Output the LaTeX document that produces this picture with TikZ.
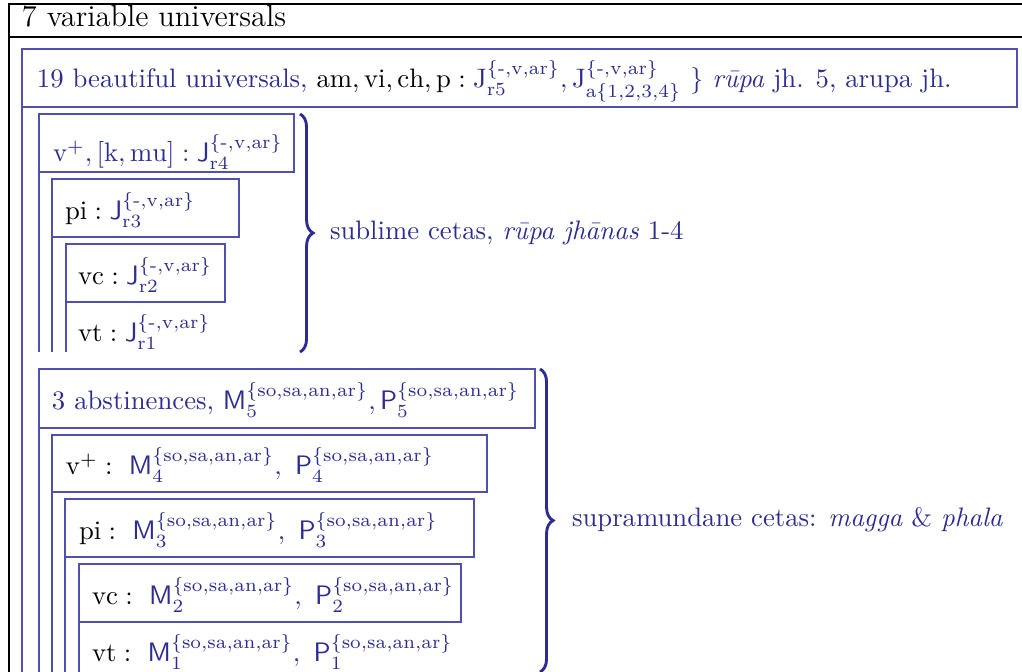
\documentclass[tikz,border=0pt]{standalone}
\usepackage{fix-cm}
\usepackage{amsmath}
\usepackage{fontspec}
\usetikzlibrary{decorations.pathreplacing}
\definecolor{txtblue}{RGB}{45,45,145}
\definecolor{boxblue}{RGB}{80,80,175}
\newcommand{\Jsup}{^{\{\text{-},\mathrm{v},\mathrm{ar}\}}}
\newcommand{\Ssup}{^{\{\mathrm{so},\mathrm{sa},\mathrm{an},\mathrm{ar}\}}}
\begin{document}
\begin{tikzpicture}[x=0.3817pt,y=-0.3817pt,
  frame/.style={draw=black,line width=0.5pt},
  bbox/.style={draw=boxblue,line width=0.4pt},
  lbl/.style={anchor=base west,inner sep=0pt,outer sep=0pt,
    font=\fontsize{10.2}{12}\selectfont},
  brc/.style={draw=txtblue,line width=1.1pt,decorate,
    decoration={brace,amplitude=5pt,aspect=0.5}}]
\useasboundingbox (0,0) rectangle (1022,672);

% outer frame and heading row
\draw[frame] (1022,4) -- (9,4) -- (9,672);
\draw[frame] (9,37) -- (1022,37);
\node[lbl,font=\fontsize{11.6}{14}\selectfont] (head) at (22,27) {7 variable universals};

% beautiful universals row
\draw[bbox] (22,49) rectangle (1017,107);
\draw[bbox] (22,107) -- (22,672);
\node[lbl] (beau) at (37,88) {{\color{txtblue}19 beautiful universals,}
  $\mathrm{am},\mathrm{vi},\mathrm{ch},\mathrm{p}:
  {\color{txtblue}\mathrm{J}\Jsup_{\mathrm{r5}},\mathrm{J}\Jsup_{\mathrm{a}\{1,2,3,4\}}\ \}}$
  {\color{txtblue}\textit{r\=upa} jh. 5, arupa jh.}};

% sublime cetas
\draw[bbox] (39,114) rectangle (294,172);
\draw[bbox] (39,172) -- (39,352);
\node[lbl,text=txtblue] (r4) at (53,162)
  {$\mathrm{v}^+,[\mathrm{k},\mathrm{mu}]:\mathsf{J}\Jsup_{\mathrm{r4}}$};
\draw[bbox] (52,179) rectangle (239,237);
\draw[bbox] (52,237) -- (52,352);
\node[lbl] (r3) at (65,220)
  {$\mathrm{pi}:{\color{txtblue}\mathsf{J}\Jsup_{\mathrm{r3}}}$};
\draw[bbox] (66,244) rectangle (225,302);
\draw[bbox] (66,302) -- (66,352);
\node[lbl] (r2) at (78,285)
  {$\mathrm{vc}:{\color{txtblue}\mathsf{J}\Jsup_{\mathrm{r2}}}$};
\node[lbl] (r1) at (78,342)
  {$\mathrm{vt}:{\color{txtblue}\mathsf{J}\Jsup_{\mathrm{r1}}}$};

\coordinate (b1a) at (300,114);
\coordinate (b1b) at (300,352);
\draw[brc] (b1a) -- (b1b);
\node[lbl,text=txtblue] (sub) at (330,240)
  {sublime cetas, \textit{r\=upa jh\=anas} 1-4};

% supramundane cetas
\draw[bbox] (39,369) rectangle (535,428);
\draw[bbox] (39,428) -- (39,672);
\node[lbl,text=txtblue] (m5) at (52,410)
  {3 abstinences,$\ \mathsf{M}_5\Ssup,\mathsf{P}_5\Ssup$};
\draw[bbox] (52,435) rectangle (487,492);
\draw[bbox] (52,492) -- (52,672);
\node[lbl] (m4) at (66,475)
  {$\mathrm{v}^+:\ {\color{txtblue}\mathsf{M}_4\Ssup,\ \mathsf{P}_4\Ssup}$};
\draw[bbox] (65,499) rectangle (474,557);
\draw[bbox] (65,557) -- (65,672);
\node[lbl] (m3) at (79,540)
  {$\mathrm{pi}:\ {\color{txtblue}\mathsf{M}_3\Ssup,\ \mathsf{P}_3\Ssup}$};
\draw[bbox] (79,564) rectangle (461,622);
\draw[bbox] (79,622) -- (79,672);
\node[lbl] (m2) at (92,605)
  {$\mathrm{vc}:\ {\color{txtblue}\mathsf{M}_2\Ssup,\ \mathsf{P}_2\Ssup}$};
\node[lbl] (m1) at (92,662)
  {$\mathrm{vt}:\ {\color{txtblue}\mathsf{M}_1\Ssup,\ \mathsf{P}_1\Ssup}$};

\coordinate (b2a) at (540,369);
\coordinate (b2b) at (540,672);
\draw[brc] (b2a) -- (b2b);
\node[lbl,text=txtblue] (sup) at (572,527)
  {supramundane cetas: \textit{magga} \& \textit{phala}};
\end{tikzpicture}
\end{document}
